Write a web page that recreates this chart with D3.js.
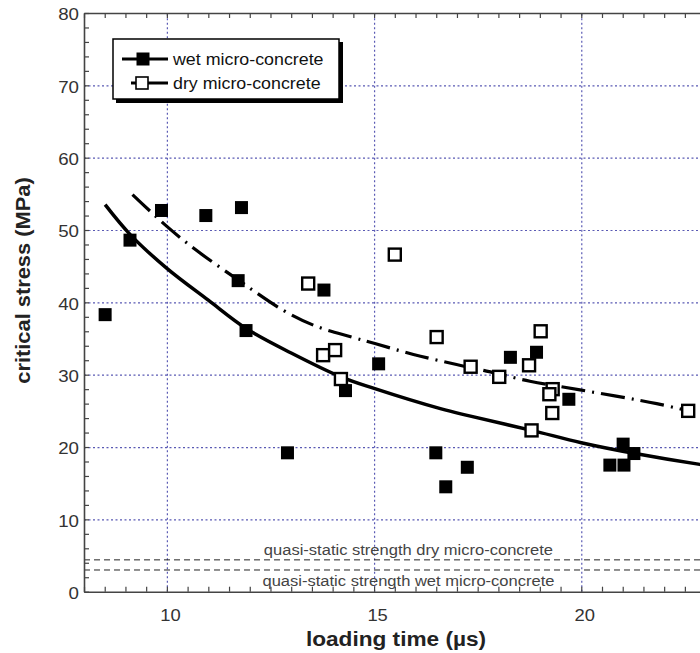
<!DOCTYPE html>
<html>
<head>
<meta charset="utf-8">
<script src="https://cdn.jsdelivr.net/npm/d3@7"></script>
<style>
  html, body { margin: 0; padding: 0; background: #fff; }
  svg { display: block; font-family: "Liberation Sans", Arial, Helvetica, sans-serif; }
</style>
</head>
<body>
<svg id="chart" width="700" height="653"></svg>
<script>
// ---------- data ----------
const wetX = [8.51, 9.11, 9.87, 10.94, 11.80, 11.72, 11.91, 12.91, 13.79, 14.31, 15.11, 16.49, 16.73, 17.25, 18.29, 18.92, 19.70, 20.69, 21.03, 21.01, 21.27];
const wetY = [38.3, 48.6, 52.7, 52.0, 53.1, 43.0, 36.1, 19.2, 41.7, 27.8, 31.5, 19.2, 14.5, 17.2, 32.4, 33.1, 26.6, 17.5, 17.5, 20.4, 19.1];

const dryX = [13.41, 13.77, 14.06, 14.20, 15.50, 16.51, 17.33, 18.02, 18.74, 19.02, 18.80, 19.31, 19.23, 19.30, 22.58];
const dryY = [42.6, 32.7, 33.4, 29.4, 46.6, 35.2, 31.1, 29.7, 31.3, 36.0, 22.3, 28.0, 27.3, 24.7, 25.0];

// fitted curves
const wetFitX = [8.51, 9.11, 10.0, 11.0, 11.91, 13.0, 14.2, 15.0, 16.6, 17.3, 18.8, 20.0, 21.3, 22.86, 23.5];
const wetFitY = [53.5, 49.4, 44.7, 40.3, 36.4, 33.0, 29.7, 28.1, 25.3, 24.3, 22.3, 20.6, 19.1, 17.6, 17.1];

const dryFitX = [9.17, 10.0, 10.64, 11.72, 12.81, 13.6, 14.46, 15.02, 15.95, 16.99, 17.64, 18.76, 19.97, 21.82, 22.58];
const dryFitY = [54.9, 50.5, 47.5, 43.1, 38.9, 36.7, 35.2, 34.3, 32.8, 31.4, 30.6, 29.1, 27.9, 26.0, 25.0];

// quasi-static strengths
const quasiDry = 4.4;
const quasiWet = 3.0;

const xTickLabels = [10, 15, 20];
const yTickLabels = [0, 10, 20, 30, 40, 50, 60, 70, 80];
const xGrid = [10, 15, 20];
const yGrid = [10, 20, 30, 40, 50, 60, 70];

const seriesNames = ["wet micro-concrete", "dry micro-concrete"];
const xTitle = "loading time (µs)";
const yTitle = "critical stress (MPa)";
const quasiLabels = ["quasi-static strength dry micro-concrete", "quasi-static strength wet micro-concrete"];

// ---------- layout ----------
const svg = d3.select("#chart");
const mLeft = 84, mTop = 13, mBottom = 591.7;
const pxPerUnit = 41.44;
const x = d3.scaleLinear().domain([8, 25]).range([mLeft, mLeft + 17 * pxPerUnit]);
const y = d3.scaleLinear().domain([0, 80]).range([mBottom, mTop]);
const plotW = x.range()[1] - mLeft, plotH = mBottom - mTop;

// widen text horizontally (the reference glyphs are a little wider than Arial)
function stretch(sel, k) {
  sel.each(function () {
    const w = this.getComputedTextLength();
    d3.select(this).attr("textLength", w * k).attr("lengthAdjust", "spacingAndGlyphs");
  });
}

svg.append("defs").append("clipPath").attr("id", "plotclip")
  .append("rect").attr("x", mLeft).attr("y", mTop).attr("width", plotW).attr("height", plotH);

const gridColor = "#5a5ab4";

// gridlines
svg.append("g").attr("transform", `translate(0,${mBottom})`)
  .call(d3.axisBottom(x).tickValues(xGrid).tickSize(-plotH).tickFormat(""))
  .call(g => g.select(".domain").remove())
  .call(g => g.selectAll("line").attr("stroke", gridColor).attr("stroke-width", 1.2).attr("stroke-dasharray", "2,2.5"));
svg.append("g").attr("transform", `translate(${mLeft},0)`)
  .call(d3.axisLeft(y).tickValues(yGrid).tickSize(-plotW).tickFormat(""))
  .call(g => g.select(".domain").remove())
  .call(g => g.selectAll("line").attr("stroke", gridColor).attr("stroke-width", 1.2).attr("stroke-dasharray", "2,2.5"));

// quasi-static lines
const plot = svg.append("g").attr("clip-path", "url(#plotclip)");
[quasiDry, quasiWet].forEach(v => {
  plot.append("line").attr("x1", mLeft).attr("x2", mLeft + plotW)
    .attr("y1", y(v)).attr("y2", y(v))
    .attr("stroke", "#222").attr("stroke-width", 1).attr("stroke-dasharray", "6,4");
});
const qx = x(15.83);
svg.append("text").attr("x", qx).attr("y", y(quasiDry) - 5).attr("text-anchor", "middle")
  .attr("font-size", 14).attr("fill", "#444").text(quasiLabels[0]).call(stretch, 1.18);
svg.append("text").attr("x", qx).attr("y", y(quasiWet) + 16).attr("text-anchor", "middle")
  .attr("font-size", 14).attr("fill", "#444").text(quasiLabels[1]).call(stretch, 1.18);

// axes: minor/major ticks inward
const axisColor = "#444";
function styleAxis(g) {
  g.select(".domain").attr("stroke", axisColor).attr("stroke-width", 1.6);
  g.selectAll(".tick line").attr("stroke", axisColor).attr("stroke-width", 1.2);
}
const xTicks = d3.range(8, 25.01, 0.5);
const yTicks = d3.range(0, 80.01, 2);
svg.append("g").attr("transform", `translate(0,${mBottom})`)
  .call(d3.axisBottom(x).tickValues(xTicks).tickSizeInner(-5).tickSizeOuter(0).tickFormat(""))
  .call(styleAxis);
svg.append("g").attr("transform", `translate(0,${mTop})`)
  .call(d3.axisTop(x).tickValues(xTicks).tickSizeInner(-5).tickSizeOuter(0).tickFormat(""))
  .call(styleAxis);
svg.append("g").attr("transform", `translate(${mLeft},0)`)
  .call(d3.axisLeft(y).tickValues(yTicks).tickSizeInner(-5).tickSizeOuter(0).tickFormat(""))
  .call(styleAxis);

// tick labels
svg.append("g").attr("transform", `translate(0,${mBottom})`)
  .call(d3.axisBottom(x).tickValues(xTickLabels).tickSize(0).tickPadding(17).tickFormat(d3.format("d")))
  .call(g => g.select(".domain").remove())
  .call(g => g.selectAll("text").attr("font-size", 17).attr("fill", "#333").attr("dx", 3)
    .attr("font-family", "Liberation Sans, Arial, sans-serif").call(stretch, 1.08));
svg.append("g").attr("transform", `translate(${mLeft},0)`)
  .call(d3.axisLeft(y).tickValues(yTickLabels).tickSize(0).tickPadding(5).tickFormat(d3.format("d")))
  .call(g => g.select(".domain").remove())
  .call(g => g.selectAll("text").attr("font-size", 17).attr("fill", "#333").attr("dy", "0.4em")
    .attr("font-family", "Liberation Sans, Arial, sans-serif").call(stretch, 1.1));

// axis titles
svg.append("text").attr("x", 396).attr("y", 646).attr("text-anchor", "middle")
  .attr("font-size", 19.5).attr("font-weight", "bold").attr("fill", "#222").text(xTitle).call(stretch, 1.16);
svg.append("text").attr("transform", "translate(30,280.5) rotate(-90)").attr("text-anchor", "middle")
  .attr("font-size", 21).attr("font-weight", "bold").attr("fill", "#222").text(yTitle).call(stretch, 1.04);

// fitted curves
const line = d3.line().x(d => x(d[0])).y(d => y(d[1])).curve(d3.curveCatmullRom.alpha(0.5));
plot.append("path").datum(wetFitX.map((v, i) => [v, wetFitY[i]]))
  .attr("d", line).attr("fill", "none").attr("stroke", "#000").attr("stroke-width", 3.5);
plot.append("path").datum(dryFitX.map((v, i) => [v, dryFitY[i]]))
  .attr("d", line).attr("fill", "none").attr("stroke", "#000").attr("stroke-width", 3.2)
  .attr("stroke-dasharray", "24,7,2,7");

// markers
const fs = 13, os = 12;
plot.selectAll("rect.wet").data(wetX.map((v, i) => [v, wetY[i]])).enter().append("rect")
  .attr("class", "wet").attr("x", d => x(d[0]) - fs / 2).attr("y", d => y(d[1]) - fs / 2)
  .attr("width", fs).attr("height", fs).attr("fill", "#000");
plot.selectAll("rect.dry").data(dryX.map((v, i) => [v, dryY[i]])).enter().append("rect")
  .attr("class", "dry").attr("x", d => x(d[0]) - os / 2).attr("y", d => y(d[1]) - os / 2)
  .attr("width", os).attr("height", os).attr("fill", "#fff").attr("stroke", "#000").attr("stroke-width", 2.4);

// legend
const lg = svg.append("g");
lg.append("rect").attr("x", 116).attr("y", 42).attr("width", 227).attr("height", 61).attr("fill", "#000");
lg.append("rect").attr("x", 113).attr("y", 39).attr("width", 226).attr("height", 60)
  .attr("fill", "#fff").attr("stroke", "#000").attr("stroke-width", 1.5);
lg.append("line").attr("x1", 122).attr("x2", 168).attr("y1", 59).attr("y2", 59).attr("stroke", "#000").attr("stroke-width", 3.2);
lg.append("rect").attr("x", 143 - fs / 2).attr("y", 59 - fs / 2).attr("width", fs).attr("height", fs).attr("fill", "#000");
lg.append("line").attr("x1", 131).attr("x2", 168).attr("y1", 83).attr("y2", 83).attr("stroke", "#000").attr("stroke-width", 3)
  .attr("stroke-dasharray", "6,3,100");
lg.append("rect").attr("x", 142 - os / 2).attr("y", 83 - os / 2).attr("width", os).attr("height", os)
  .attr("fill", "#fff").attr("stroke", "#000").attr("stroke-width", 1.6);
lg.append("text").attr("x", 173).attr("y", 65).attr("font-size", 16.5).attr("fill", "#111").text(seriesNames[0]).call(stretch, 1.08);
lg.append("text").attr("x", 173).attr("y", 89).attr("font-size", 16.5).attr("fill", "#111").text(seriesNames[1]).call(stretch, 1.08);
</script>
</body>
</html>
